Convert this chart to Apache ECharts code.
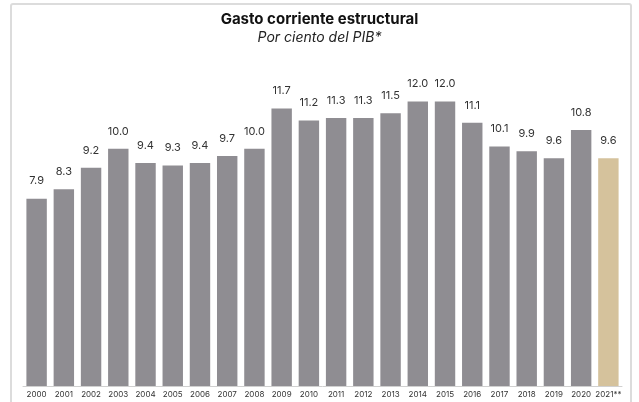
<!DOCTYPE html>
<html><head><meta charset="utf-8">
<script src="https://cdn.jsdelivr.net/npm/echarts@6/dist/echarts.min.js"></script>
<style>html,body{margin:0;padding:0;background:#fff}#c{width:639px;height:402px}</style>
</head><body><div id="c"></div>
<script>
const categories = ['2000','2001','2002','2003','2004','2005','2006','2007','2008','2009','2010','2011','2012','2013','2014','2015','2016','2017','2018','2019','2020','2021**'];
const values = [7.9,8.3,9.2,10.0,9.4,9.3,9.4,9.7,10.0,11.7,11.2,11.3,11.3,11.5,12.0,12.0,11.1,10.1,9.9,9.6,10.8,9.6];
const highlightIndex = 21;
const titleText = 'Gasto corriente estructural';
const subtitleText = 'Por ciento del PIB*';

const chart = echarts.init(document.getElementById('c'), null, {renderer:'canvas'});
const FONT = 'Inter, "Noto Sans", sans-serif';
chart.setOption({
  animation:false,
  backgroundColor:'#fff',
  title:{
    text:titleText, subtext:subtitleText, left:'center', top:7, itemGap:4,
    textStyle:{fontFamily:FONT,fontSize:15,fontWeight:'bold',color:'#111'},
    subtextStyle:{fontFamily:FONT,fontSize:14,fontStyle:'italic',color:'#222'}
  },
  graphic:[{type:'rect',shape:{x:11,y:4,width:620,height:420,r:2},style:{fill:'none',stroke:'#dcdcdc',lineWidth:2},z:-1}],
  grid:{left:23,right:17,top:54,bottom:16},
  xAxis:{type:'category',data:categories,
    axisLine:{lineStyle:{color:'#d0d0d0',width:1}},axisTick:{show:false},
    axisLabel:{fontFamily:FONT,fontSize:8,color:'#333',margin:5,interval:0}},
  yAxis:{type:'value',min:0,max:14,show:false,splitLine:{show:false}},
  series:[{type:'bar',barCategoryGap:'25%',
    data:values.map((v,i)=>({value:v,itemStyle:{color:i===highlightIndex?'#d5c29c':'#8f8d92'}})),
    label:{show:true,position:'top',distance:12,fontFamily:FONT,fontSize:11,color:'#333',
      formatter:p=>p.value.toFixed(1)}
  }]
});
</script></body></html>
